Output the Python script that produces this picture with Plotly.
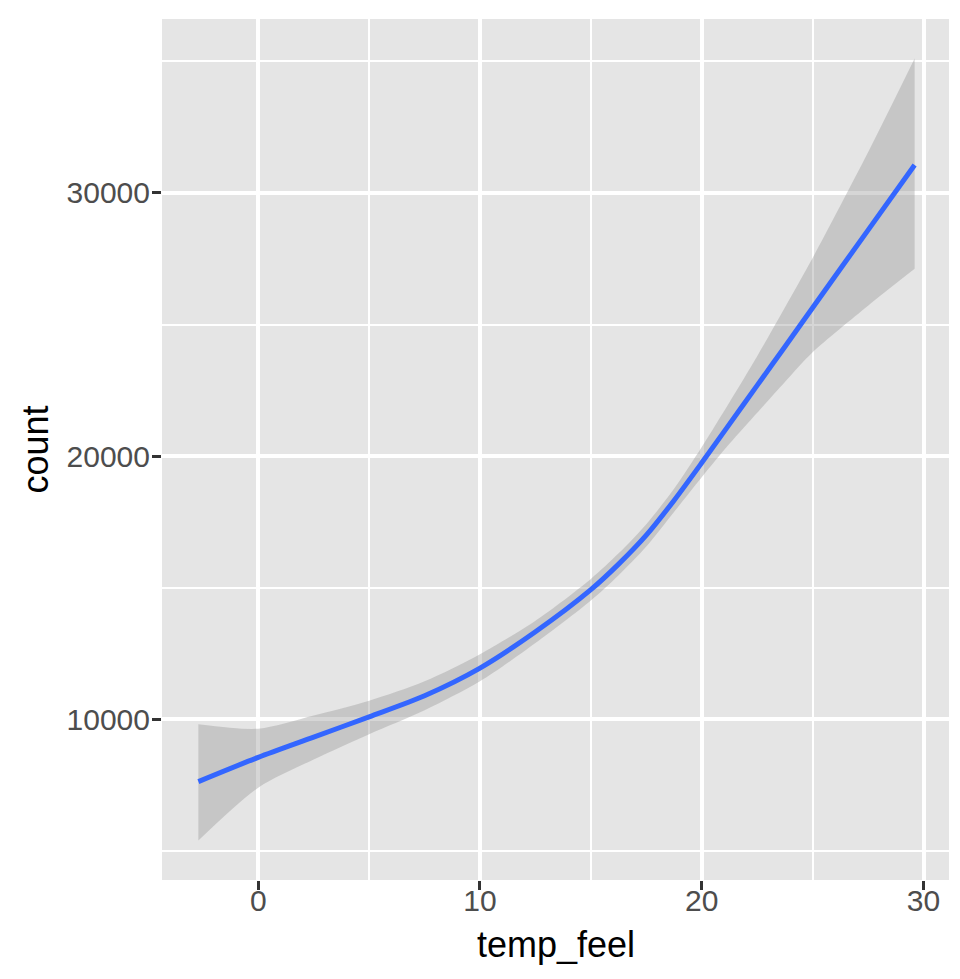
import plotly.graph_objects as go

# Data (loess fit with confidence band)
temp_feel = [-2.7, 0, 2.5, 5, 7.5, 10, 12.5, 15, 16.25, 17.5, 18.75, 20, 21.25, 22.5, 23.75, 25, 27.5, 29.6]
count_fit = [7640, 8560, 9330, 10100, 10900, 11950, 13330, 14930, 15900, 17000, 18320, 19750, 21220, 22690, 24160, 25640, 28590, 31060]
count_lo = [5400, 7410, 8480, 9440, 10350, 11450, 12900, 14520, 15480, 16570, 17880, 19200, 20470, 21650, 22820, 23950, 25720, 27120]
count_hi = [9820, 9650, 10150, 10710, 11450, 12480, 13750, 15340, 16310, 17420, 18760, 20350, 22050, 23800, 25650, 27530, 31550, 35110]

x_ticks = [0, 10, 20, 30]
y_ticks = [10000, 20000, 30000]
x_title = "temp_feel"
y_title = "count"

fig = go.Figure()

# confidence band: lower edge, then upper edge filled down to it
fig.add_trace(go.Scatter(
    x=temp_feel, y=count_lo,
    mode="lines",
    line=dict(width=0, shape="spline", smoothing=0.8),
    hoverinfo="skip",
    showlegend=False,
))
fig.add_trace(go.Scatter(
    x=temp_feel, y=count_hi,
    mode="lines",
    fill="tonexty",
    fillcolor="rgba(153,153,153,0.4)",
    line=dict(width=0, shape="spline", smoothing=0.8),
    hoverinfo="skip",
    showlegend=False,
))

fig.add_trace(go.Scatter(
    x=temp_feel, y=count_fit,
    mode="lines",
    line=dict(color="#3366FF", width=5, shape="spline", smoothing=0.8),
    showlegend=False,
))

axis_common = dict(
    showline=False,
    zeroline=False,
    gridcolor="#FFFFFF",
    gridwidth=3.5,
    ticks="outside",
    ticklen=9,
    tickwidth=3,
    tickcolor="#333333",
    tickfont=dict(family="Liberation Sans, Arial, sans-serif", size=30, color="#4D4D4D"),
    minor=dict(showgrid=True, gridcolor="#FFFFFF", gridwidth=1.75, ticks=""),
)

fig.update_layout(
    width=952, height=971,
    margin=dict(l=154, r=11, t=11, b=99),
    paper_bgcolor="#FFFFFF",
    plot_bgcolor="#E5E5E5",
    font=dict(family="Liberation Sans, Arial, sans-serif"),
    xaxis=dict(
        range=[-4.34, 31.15],
        tickvals=x_ticks,
        ticktext=[str(v) for v in x_ticks],
        ticklabelstandoff=-15,
        **axis_common,
    ),
    yaxis=dict(
        range=[3901, 36609],
        tickvals=y_ticks,
        ticktext=[str(v) for v in y_ticks],
        ticklabelstandoff=-4,
        **axis_common,
    ),
    annotations=[
        dict(text=x_title, xref="paper", yref="paper", x=0.5, y=0,
             xanchor="center", yanchor="middle", yshift=-64, showarrow=False,
             font=dict(size=36, color="#000000")),
        dict(text=y_title, xref="paper", yref="paper", x=0, y=0.5,
             xanchor="center", yanchor="middle", xshift=-127, textangle=-90,
             showarrow=False, font=dict(size=36, color="#000000")),
    ],
)
fig.update_xaxes(minor=dict(tickvals=[-5, 5, 15, 25]))
fig.update_yaxes(minor=dict(tickvals=[5000, 15000, 25000, 35000]))

fig.write_html("out.html")
